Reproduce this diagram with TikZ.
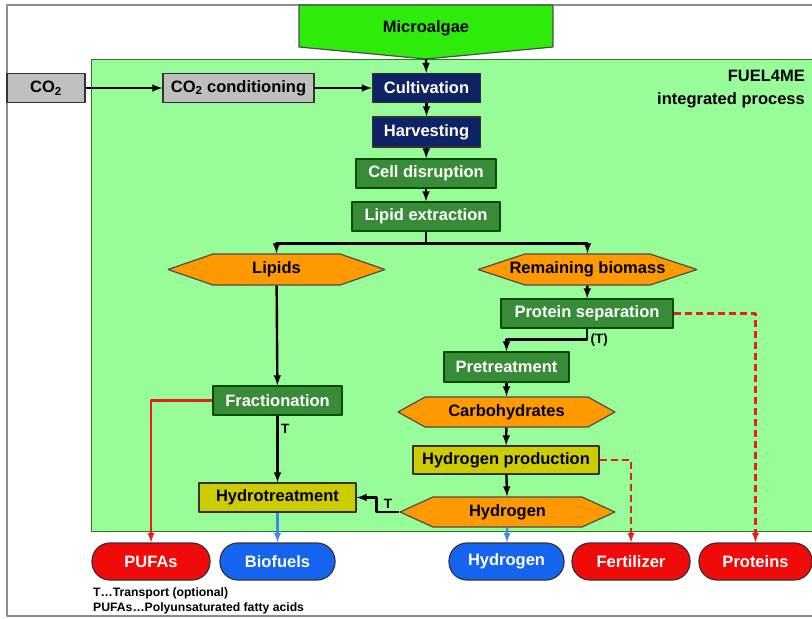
\documentclass[tikz,border=0pt]{standalone}
\usepackage{fontspec}
\setmainfont{Liberation Sans}
\definecolor{panelgreen}{RGB}{152,252,152}
\definecolor{panelline}{RGB}{40,120,40}
\definecolor{algaegreen}{RGB}{45,235,10}
\definecolor{procgreen}{RGB}{56,140,56}
\definecolor{navybox}{RGB}{14,34,100}
\definecolor{hexorange}{RGB}{255,153,0}
\definecolor{hydroyellow}{RGB}{204,204,0}
\definecolor{prodred}{RGB}{240,10,10}
\definecolor{prodblue}{RGB}{20,100,240}
\definecolor{linered}{RGB}{235,30,30}
\definecolor{lineblue}{RGB}{70,135,235}
\tikzset{
  procbox/.style={draw=black!80, line width=1.2pt, inner sep=0pt, minimum height=29pt,
    font=\fontsize{16.5}{19}\selectfont\bfseries},
  navystep/.style={procbox, fill=navybox, text=white},
  greenstep/.style={procbox, fill=procgreen, text=white, draw=black!70!green},
  yellowstep/.style={procbox, fill=hydroyellow},
  graystep/.style={procbox, fill=black!25},
  hexline/.style={draw=black!70, line width=1.2pt, fill=hexorange},
  hexstream/.style={procbox, draw=none},
  product/.style={procbox, rounded corners=18pt, minimum height=37pt, text=white},
  redproduct/.style={product, fill=prodred},
  blueproduct/.style={product, fill=prodblue},
  flow/.style={->, line width=2.4pt},
  redflow/.style={->, line width=2.2pt, linered},
  blueflow/.style={->, line width=2.2pt, lineblue},
  dashflow/.style={redflow, dash pattern=on 7pt off 4pt},
  translabel/.style={font=\fontsize{13.5}{15}\selectfont\bfseries, inner sep=2.5pt},
}
% hexagon stream: name, centre x,y, half width, half height, indent, text
\newcommand\hexstage[6]{%
  \filldraw [hexline] ([shift={(-#3,0)}]#2) -- ([shift={(-#3+#5,-#4)}]#2)
    -- ([shift={(#3-#5,-#4)}]#2) -- ([shift={(#3,0)}]#2)
    -- ([shift={(#3-#5,#4)}]#2) -- ([shift={(-#3+#5,#4)}]#2) -- cycle;
  \node [hexstream, minimum width={2*#3pt}, minimum height={2*#4pt}] (#1) at (#2) {#6};
}
\begin{document}
\begin{tikzpicture}[x=1pt,y=-1pt,>=latex,line join=bevel]
  \useasboundingbox (0,0) rectangle (812,619);
  \clip (0,0) rectangle (812,619);
  % Frame and process area
  \draw [black!45, line width=1.2pt] (7,5) rectangle (840,616);
  \draw [panelline, fill=panelgreen, line width=1pt] (91,59) rectangle (840,531);
  \node [anchor=north east, align=right, inner sep=0pt,
    font=\fontsize{16.5}{23}\selectfont\bfseries] (fuel) at (805,70) {FUEL4ME\\integrated process};
  % Node: Microalgae
  \filldraw [black!70, fill=algaegreen, line width=1.2pt]
    (299,5) -- (553,5) -- (553,47) -- (426,59) -- (299,47) -- cycle;
  \node [procbox, draw=none, minimum width=254pt, minimum height=42pt] (algae) at (426,28) {Microalgae};
  \coordinate (algae tip) at (426,59);
  % Node: CO2 and conditioning
  \node [graystep, minimum width=78pt] (co2) at (46,88) {CO\textsubscript{2}};
  \node [graystep, minimum width=151pt] (cond) at (238.5,88) {CO\textsubscript{2} conditioning};
  % Node: main line
  \node [navystep, minimum width=108pt] (cultiv) at (426.5,88) {Cultivation};
  \node [navystep, minimum width=108pt, minimum height=30pt] (harvest) at (426.5,132) {Harvesting};
  \node [greenstep, minimum width=140pt] (disrupt) at (426,173.5) {Cell disruption};
  \node [greenstep, minimum width=148pt] (extract) at (426,216.5) {Lipid extraction};
  % Node: lipid branch
  \hexstage{lipids}{276.5,269.5}{108.5}{15.5}{45}{Lipids}
  \node [greenstep, minimum width=129pt] (fract) at (277.5,400.5) {Fractionation};
  \node [yellowstep, minimum width=157pt] (hydrotreat) at (277.5,497.5) {Hydrotreatment};
  % Node: biomass branch
  \hexstage{biomass}{587.5,269.5}{109.5}{15.5}{47}{Remaining biomass}
  \node [greenstep, minimum width=172pt] (protsep) at (587,313.5) {Protein separation};
  \node [greenstep, minimum width=125pt, minimum height=30pt] (pretreat) at (506.5,367) {Pretreatment};
  \hexstage{carbo}{506.5,412}{108.5}{15}{27}{Carbohydrates}
  \node [yellowstep, minimum width=186pt, minimum height=28pt] (h2prod) at (506,460) {Hydrogen production};
  \hexstage{h2}{507.5,512}{107.5}{15}{33}{Hydrogen}
  % Node: products
  \node [redproduct, minimum width=118pt] (pufas) at (151,561.5) {PUFAs};
  \node [blueproduct, minimum width=115pt] (biofuels) at (277.5,561.5) {Biofuels};
  \node [blueproduct, minimum width=115pt] (hydrogen) at (506.5,561.5) {Hydrogen};
  \node [redproduct, minimum width=118pt] (fert) at (631,561.5) {Fertilizer};
  \node [redproduct, minimum width=113pt] (proteins) at (755.5,561.5) {Proteins};
  % Node: legend
  \node [anchor=north west, align=left, inner sep=0pt,
    font=\fontsize{12.2}{15}\selectfont\bfseries] (legend) at (93,587)
    {T\ldots Transport (optional)\\PUFAs\ldots Polyunsaturated fatty acids};
  % Edge: CO2 -> conditioning -> Cultivation
  \draw [flow] (co2) -- (cond);
  \draw [flow] (cond) -- (cultiv);
  % Edge: Microalgae -> Cultivation -> ... -> Lipid extraction
  \draw [flow] (algae tip) -- (cultiv);
  \draw [flow] (cultiv) -- (harvest);
  \draw [flow] (harvest) -- (disrupt);
  \draw [flow] (disrupt) -- (extract);
  % Edge: Lipid extraction -> Lipids, Remaining biomass
  \draw [flow] (extract.south) -- ++(0,12) -| (lipids.north);
  \draw [flow] (extract.south) -- ++(0,12) -| (biomass.north);
  % Edge: Lipids -> Fractionation -> Hydrotreatment
  \draw [flow] (lipids) -- (fract);
  \draw [flow] (fract) -- node [translabel, right, pos=0.2] {T} (hydrotreat);
  % Edge: Fractionation -> PUFAs
  \draw [redflow] (fract.west) -| (pufas.north);
  % Edge: Hydrotreatment -> Biofuels
  \draw [blueflow] (hydrotreat) -- (biofuels);
  % Edge: Remaining biomass -> Protein separation -> Pretreatment
  \draw [flow] (biomass) -- (protsep);
  \draw [flow] (protsep.south) -- ++(0,11) node [translabel, right] {(T)} -| (pretreat.north);
  % Edge: Protein separation -> Proteins
  \draw [dashflow] (protsep.east) -| (proteins.north);
  % Edge: Pretreatment -> Carbohydrates -> Hydrogen production -> Hydrogen
  \draw [flow] (pretreat) -- (carbo);
  \draw [flow] (carbo) -- (h2prod);
  \draw [flow] (h2prod) -- (h2);
  % Edge: Hydrogen production -> Fertilizer
  \draw [dashflow] (h2prod.east) -| (fert.north);
  % Edge: Hydrogen -> Hydrotreatment, Hydrogen (product)
  \draw [flow] (h2.west) -- node [translabel, above] {T} ++(-23,0) |- (hydrotreat.east);
  \draw [blueflow] (h2) -- (hydrogen);
\end{tikzpicture}
\end{document}
